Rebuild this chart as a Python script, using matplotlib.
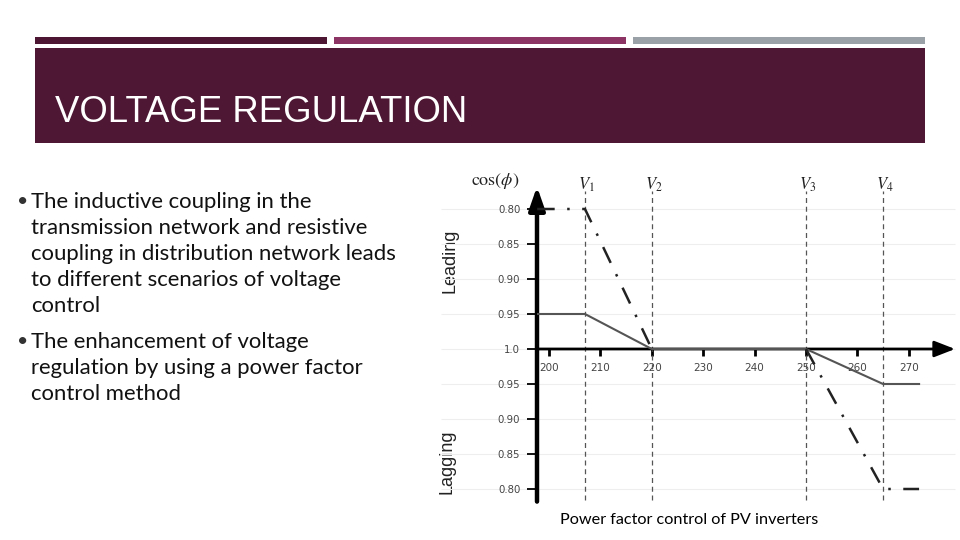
import matplotlib
matplotlib.use("Agg")
import matplotlib.pyplot as plt
from matplotlib.patches import Rectangle

plt.rcParams['mathtext.fontset'] = 'stix'

# ---- data ----
title = "VOLTAGE REGULATION"
bullets = [
    ["The inductive coupling in the",
     "transmission network and resistive",
     "coupling in distribution network leads",
     "to different scenarios of voltage",
     "control"],
    ["The enhancement of voltage",
     "regulation by using a power factor",
     "control method"],
]
caption = "Power factor control of PV inverters"

voltage_ticks = [200, 210, 220, 230, 240, 250, 260, 270]
# signed power-factor scale: leading above the axis, lagging below
pf_tick_values = [0.80, 0.85, 0.90, 0.95, 1.0, 0.95, 0.90, 0.85, 0.80]
pf_tick_side = [1, 1, 1, 1, 0, -1, -1, -1, -1]
pf_tick_labels = ["0.80", "0.85", "0.90", "0.95", "1.0", "0.95", "0.90", "0.85", "0.80"]

v_names = [r"$V_1$", r"$V_2$", r"$V_3$", r"$V_4$"]
v_values = [207, 220, 250, 265]

# solid curve (pf limit 0.95)
solid_v = [197.7, 207, 220, 250, 265, 272]
solid_pf = [0.95, 0.95, 1.0, 1.0, 0.95, 0.95]
solid_side = [1, 1, 0, 0, -1, -1]

# dash-dot curves (pf limit 0.80)
lead_dd_v = [197.7, 207, 220]
lead_dd_pf = [0.80, 0.80, 1.0]
lag_dd_v = [250, 265, 272]
lag_dd_pf = [1.0, 0.80, 0.80]


def dev(pf, side):
    return [s * (1 - p) for p, s in zip(pf, side)]


fig = plt.figure(figsize=(9.6, 5.4), dpi=100)

# background layer in pixel coordinates
bg = fig.add_axes([0, 0, 1, 1], zorder=0)
bg.set_xlim(0, 960)
bg.set_ylim(540, 0)
bg.axis('off')

for x0, col in [(35, '#4d1733'), (334, '#8c3464'), (633, '#9aa1a7')]:
    bg.add_patch(Rectangle((x0, 36.5), 292, 7.5, color=col, lw=0))
bg.add_patch(Rectangle((35, 48), 890, 95, color='#4e1734', lw=0))
bg.text(55, 112, title, color='white', fontsize=26.3,
        family=['Liberation Sans Narrow', 'Liberation Sans'], va='center', ha='left')

y = 202
for para in bullets:
    bg.text(17, y, u"\u2022", fontsize=14, family='Lato', va='center', color='#333333')
    for line in para:
        bg.text(31, y, line, fontsize=15.9, family='Lato', va='center', color='#111111')
        y += 26
    y += 10

bg.text(689, 520, caption, fontsize=11.7, family='Lato', ha='center', va='center', color='black')

bg.text(450, 261, "Leading", rotation=90, fontsize=13, family='Liberation Sans',
        ha='center', va='center', color='#222222')
bg.text(447, 462, "Lagging", rotation=90, fontsize=13, family='Liberation Sans',
        ha='center', va='center', color='#222222')

# ---- chart ----
px_l, px_r, px_t, px_b = 537, 958, 184, 503
ax = fig.add_axes([px_l / 960, (540 - px_b) / 540, (px_r - px_l) / 960, (px_b - px_t) / 540], zorder=1)
ax.patch.set_alpha(0)
x0 = 200 + (px_l - 549) / 5.14
x1 = 200 + (px_r - 549) / 5.14
ax.set_xlim(x0, x1)
ax.set_ylim((349 - px_b) / 700, (349 - px_t) / 700)

yt = dev(pf_tick_values, pf_tick_side)
# faint background rules
ax.hlines(yt, 179, 279, colors='#eeeeee', lw=0.8, zorder=0, clip_on=False)

for sp in ['top', 'right']:
    ax.spines[sp].set_visible(False)
ax.spines['left'].set_position(('data', x0))
ax.spines['bottom'].set_position(('data', 0))
ax.spines['left'].set_color('none')
ax.spines['bottom'].set_color('none')

ax.set_xticks(voltage_ticks)
ax.set_xticklabels([str(v) for v in voltage_ticks])
ax.set_yticks(yt)
ax.set_yticklabels(pf_tick_labels)
ax.tick_params(axis='x', direction='out', length=5, width=2, pad=5, labelsize=7.5, labelcolor='#444444')
ax.tick_params(axis='y', direction='out', length=7, width=1.3, pad=5, labelsize=7.3, labelcolor='#444444')

# axes with arrow heads
ax.annotate('', xy=(279.0, 0), xytext=(x0, 0),
            arrowprops=dict(arrowstyle='-|>,head_length=0.9,head_width=0.35', lw=2, color='black',
                            shrinkA=0, shrinkB=0, mutation_scale=14), annotation_clip=False)
ax.annotate('', xy=(x0, 0.232), xytext=(x0, -0.218),
            arrowprops=dict(arrowstyle='-|>,head_length=1.0,head_width=0.35', lw=3.2, color='black',
                            shrinkA=0, shrinkB=0, mutation_scale=14), annotation_clip=False)

# V markers
for name, v in zip(v_names, v_values):
    ax.plot([v, v], [-0.216, 0.225], color='#555555', lw=0.9, ls=(0, (4, 3)), clip_on=False)
    ax.text(v + 0.3, 0.235, name, fontsize=12, ha='center', va='center', color='#222222')

ax.text(189.5, 0.24, r"$\cos(\phi)$", fontsize=13, ha='center', va='center', color='#222222')

# curves
ax.plot(solid_v, dev(solid_pf, solid_side), color='#555555', lw=1.5, zorder=3)
ax.plot(lead_dd_v, dev(lead_dd_pf, [1, 1, 0]), color='#222222', lw=1.8,
        ls=(0, (7, 5, 1, 5)), zorder=3)
ax.plot(lag_dd_v, dev(lag_dd_pf, [0, -1, -1]), color='#222222', lw=1.8,
        ls=(0, (7, 5, 1, 5)), zorder=3)

fig.savefig("out.png", dpi=100)
